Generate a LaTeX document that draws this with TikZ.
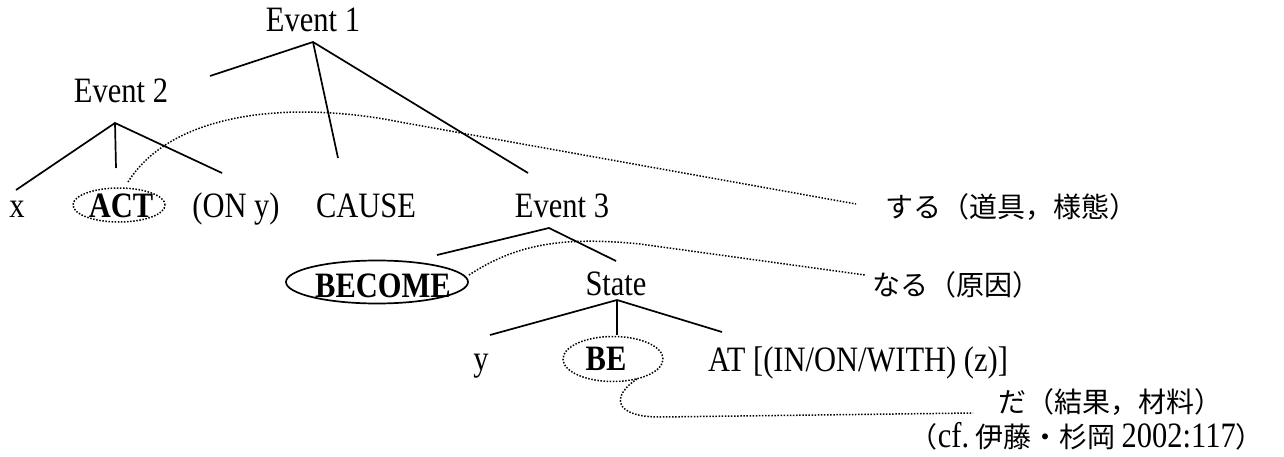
\documentclass[tikz,border=0pt]{standalone}
\usepackage{fontspec}
\usepackage{graphicx}
\setmainfont{Liberation Serif}
\newfontfamily\jp{Noto Sans CJK JP}
\newcommand\tallt[1]{\scalebox{1}[1.17]{#1}}
\usetikzlibrary{shapes.geometric}
\begin{document}
\begin{tikzpicture}[x=1pt,y=-1pt,
  lbl/.style={inner sep=0pt,anchor=base,font=\fontsize{30.5}{36}\selectfont},
  jlbl/.style={inner sep=0pt,anchor=base west,font=\jp\fontsize{28}{34}\selectfont},
  branch/.style={line width=1.7pt},
  dots/.style={line width=1.5pt,dash pattern=on 1.5pt off 1.6pt},
  ring/.style={ellipse,inner sep=0pt}]
\path[use as bounding box] (0,0) rectangle (1284,457);
% labels
\node[lbl] (e1) at (313,32) {\tallt{Event 1}};
\node[lbl] (e2) at (121,103) {\tallt{Event 2}};
\node[lbl] (x) at (17,217) {\tallt{x}};
\node[lbl] (act) at (121,217) {\tallt{\textbf{ACT}}};
\node[lbl] (on) at (236,217) {\tallt{(ON y)}};
\node[lbl] (cause) at (366,217) {\tallt{CAUSE}};
\node[lbl] (e3) at (562,217) {\tallt{Event 3}};
\node[lbl] (become) at (383,297) {\tallt{\textbf{BECOME}}};
\node[lbl] (state) at (616,295) {\tallt{State}};
\node[lbl] (y) at (481,370) {\tallt{y}};
\node[lbl] (be) at (606,370) {\tallt{\textbf{BE}}};
\node[lbl,anchor=base west] (at) at (708,371) {\tallt{AT [(IN/ON/WITH) (z)]}};
\node[jlbl] (suru) at (885,217) {する（道具，様態）};
\node[jlbl] (naru) at (872,295) {なる（原因）};
\node[jlbl] (da) at (998,412) {だ（結果，材料）};
\node[jlbl,anchor=base east] (cf) at (1264,447) {（{\rmfamily\fontsize{30.5}{36}\selectfont\tallt{cf.}}~伊藤・杉岡~{\rmfamily\fontsize{30.5}{36}\selectfont\tallt{2002:117}}）};
% ellipses
\node[ring,draw,dots,minimum width=92pt,minimum height=34pt] (actE) at (119,205) {};
\node[ring,draw,line width=1.7pt,minimum width=182pt,minimum height=43pt] (becE) at (377,282) {};
\node[ring,draw,dots,minimum width=100pt,minimum height=45pt] (beE) at (613,359) {};
% tree coordinates
\coordinate (a1) at (313,42);
\coordinate (a1l) at (210,76);
\coordinate (a1m) at (338,158);
\coordinate (a1r) at (528,173);
\coordinate (a2) at (115,123);
\coordinate (a2l) at (16,190);
\coordinate (a2m) at (116,168);
\coordinate (a2r) at (222,173);
\coordinate (a3) at (549,228);
\coordinate (a3l) at (437,255);
\coordinate (a3r) at (616,261);
\coordinate (a4) at (617,300);
\coordinate (a4l) at (490,335);
\coordinate (a4m) at (617,335);
\coordinate (a4r) at (722,332);
% branches
\draw[branch] (a1l) -- (a1) -- (a1r);
\draw[branch] (a1) -- (a1m);
\draw[branch] (a2l) -- (a2) -- (a2r);
\draw[branch] (a2) -- (a2m);
\draw[branch] (a3l) -- (a3) -- (a3r);
\draw[branch] (a4l) -- (a4) -- (a4r);
\draw[branch] (a4) -- (a4m);
% dotted links
\coordinate (d1s) at (128,182);
\coordinate (d1e) at (856,204);
\coordinate (d2s) at (469,275);
\coordinate (d2e) at (865,275);
\coordinate (d3s) at (637,379);
\coordinate (d3e) at (973,413);
\draw[dots] (d1s) .. controls (172,112) and (290,100) .. (400,122) -- (d1e);
\draw[dots] (d2s) .. controls (515,245) and (560,236) .. (640,244) -- (d2e);
\draw[dots] (d3s) .. controls (612,395) and (612,417) .. (660,417) -- (d3e);
\end{tikzpicture}
\end{document}
